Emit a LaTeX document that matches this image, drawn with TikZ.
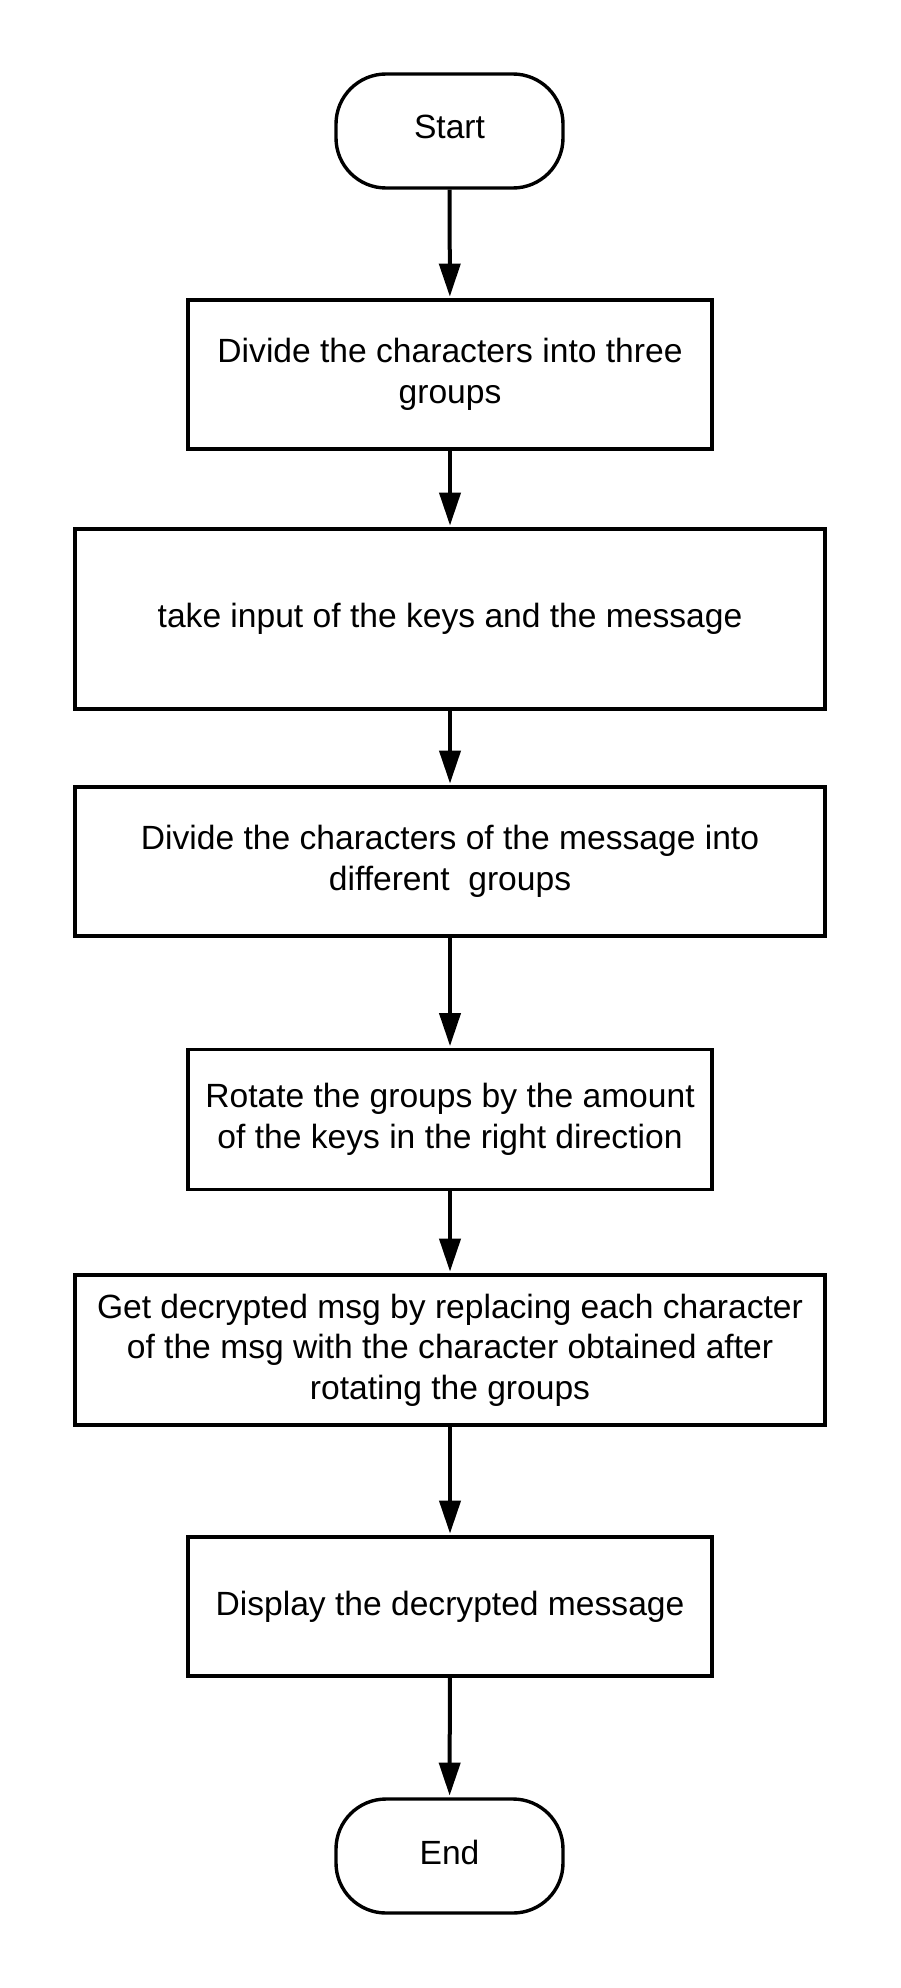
\documentclass[tikz,border=0pt]{standalone}
\usepackage{fontspec}
\setmainfont{Liberation Sans}
\usetikzlibrary{arrows.meta}
\begin{document}
\begin{tikzpicture}[x=1pt,y=-1pt,
  every node/.style={font=\fontsize{33.6}{40.5}\selectfont, align=center, inner sep=0pt},
  terminal/.style={draw, line width=3.4pt, rounded corners=50pt, minimum width=227pt, minimum height=114pt},
  procbox/.style={draw, line width=3.4pt, minimum width=#1},
  flow/.style={-{Triangle[length=33pt,width=21pt]}, line width=4pt, shorten >=1.7pt}
]
\useasboundingbox (0,0) rectangle (900,1988);
\node[terminal] (start) at (449.5,131) {\raisebox{8pt}{Start}};
\node[procbox=524pt, minimum height=149pt] (b1) at (450,374.5) {Divide the characters into three\\groups};
\node[procbox=750pt, minimum height=180pt] (b2) at (450,619) {take input of the keys and the message};
\node[procbox=750pt, minimum height=149pt] (b3) at (450,861.5) {Divide the characters of the message into\\different\ \ groups};
\node[procbox=524pt, minimum height=140pt] (b4) at (450,1119.5) {Rotate the groups by the amount\\of the keys in the right direction};
\node[procbox=750pt, minimum height=150pt] (b5) at (450,1350) {Get decrypted msg by replacing each character\\of the msg with the character obtained after\\rotating the groups};
\node[procbox=524pt, minimum height=139pt] (b6) at (450,1606.5) {Display the decrypted message};
\node[terminal] (end) at (449.5,1856) {\raisebox{8pt}{End}};
\draw[flow] (start) -- (b1);
\draw[flow] (b1) -- (b2);
\draw[flow] (b2) -- (b3);
\draw[flow] (b3) -- (b4);
\draw[flow] (b4) -- (b5);
\draw[flow] (b5) -- (b6);
\draw[flow] (b6) -- (end);
\end{tikzpicture}
\end{document}
